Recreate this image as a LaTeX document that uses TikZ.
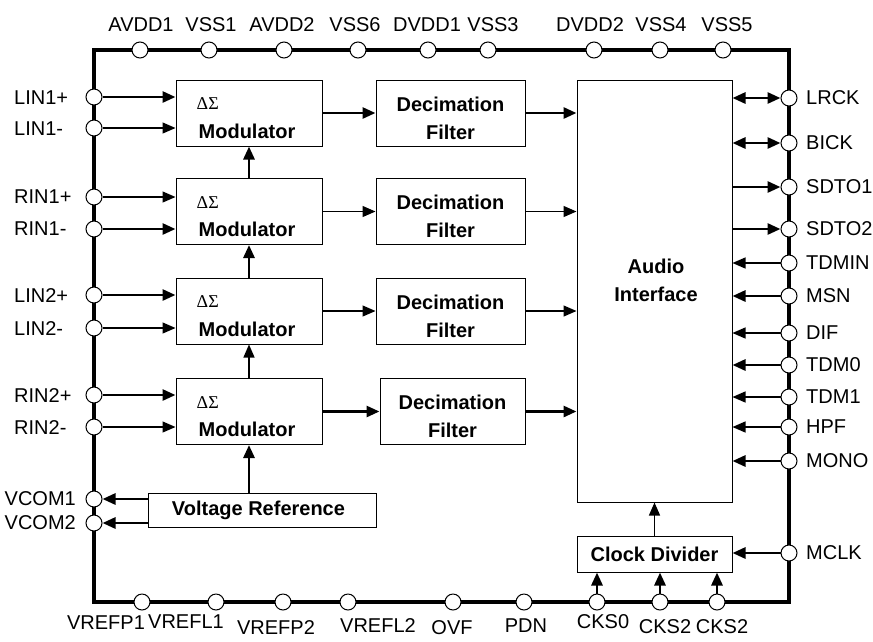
\documentclass[tikz,border=0pt]{standalone}
\usepackage{fontspec}
\setmainfont{Liberation Sans}
\newfontfamily\greekfont{Liberation Serif}
\usetikzlibrary{arrows.meta}

\tikzset{
  pin/.style={circle, draw, fill=white, line width=1pt, minimum size=16pt, inner sep=0pt},
  pinlabel/.style={font=\fontsize{20}{22}\selectfont, inner sep=0pt},
  blktext/.style={font=\bfseries\fontsize{20}{28}\selectfont, inner sep=0pt, align=center},
  blk/.style={draw, line width=1pt, inner sep=0pt, blktext},
  modblk/.style={blk, minimum width=146pt, minimum height=66pt,
    label={[anchor=north west, inner sep=0pt, font=\greekfont\fontsize{18}{20}\selectfont, xshift=21pt, yshift=-18pt]north west:ΔΣ},
    label={[anchor=south, blktext, yshift=8pt, xshift=-2pt]south:Modulator}},
  decblk/.style={blk, minimum width=149pt, minimum height=66pt,
    label={[anchor=north, blktext, yshift=-17pt]north:Decimation\\Filter}},
  arr/.style={-{Triangle[length=13pt,width=11pt]}, line width=1.3pt},
  tarr/.style={arr, line width=2.8pt},
  darr/.style={tarr, {Triangle[length=13pt,width=11pt]}-{Triangle[length=13pt,width=11pt]}},
}

\begin{document}
\begin{tikzpicture}[x=1pt, y=-1pt]
    \useasboundingbox (0,0) rectangle (873,641);

    % Package outline
    \draw[line width=4.2pt] (94,50) rectangle (789,602);

    % Blocks
    \node[modblk] (mod1) at (249,113) {};
    \node[modblk] (mod2) at (249,211.5) {};
    \node[modblk] (mod3) at (249,311) {};
    \node[modblk] (mod4) at (249,411.5) {};
    \node[decblk] (dec1) at (450.5,113) {};
    \node[decblk] (dec2) at (450.5,211.5) {};
    \node[decblk] (dec3) at (450.5,311) {};
    \node[decblk, minimum width=145pt] (dec4) at (452.5,411.5) {};
    \node[blk, minimum width=155pt, minimum height=422pt] (ai) at (654.5,291) {};
    \node[blktext] (aitext) at (656,280) {Audio\\Interface};
    \node[blk, minimum width=228pt, minimum height=34pt] (vref) at (262,510) {\hspace*{-7pt}Voltage Reference};
    \node[blk, minimum width=155pt, minimum height=36pt] (clk) at (654.5,554) {Clock Divider};

    % Top pins
    \foreach \name/\x/\lx in {AVDD1/140/141, VSS1/209/211, AVDD2/284/282, VSS6/358/355,
        DVDD1/428/427, VSS3/488/493, DVDD2/594/590, VSS4/660/661, VSS5/723/727} {
      \node[pin] (\name) at (\x,50) {};
      \node[pinlabel] (\name-lbl) at (\lx,25) {\name};
    }

    % Left pins
    \node[pin] (lin1p) at (94,97) {};
    \node[pin] (lin1m) at (94,128) {};
    \node[pin] (rin1p) at (94,197) {};
    \node[pin] (rin1m) at (94,229) {};
    \node[pin] (lin2p) at (94,295) {};
    \node[pin] (lin2m) at (94,328) {};
    \node[pin] (rin2p) at (94,395) {};
    \node[pin] (rin2m) at (94,427) {};
    \node[pin] (vcom1) at (94,499) {};
    \node[pin] (vcom2) at (94,523) {};
    \node[pinlabel, anchor=west] (lin1p-lbl) at (14,98) {LIN1+};
    \node[pinlabel, anchor=west] (lin1m-lbl) at (14,129) {LIN1-};
    \node[pinlabel, anchor=west] (rin1p-lbl) at (14,197) {RIN1+};
    \node[pinlabel, anchor=west] (rin1m-lbl) at (14,229) {RIN1-};
    \node[pinlabel, anchor=west] (lin2p-lbl) at (14,296) {LIN2+};
    \node[pinlabel, anchor=west] (lin2m-lbl) at (14,329) {LIN2-};
    \node[pinlabel, anchor=west] (rin2p-lbl) at (14,396) {RIN2+};
    \node[pinlabel, anchor=west] (rin2m-lbl) at (14,428) {RIN2-};
    \node[pinlabel, anchor=east] (vcom1-lbl) at (76,499) {VCOM1};
    \node[pinlabel, anchor=east] (vcom2-lbl) at (76,523) {VCOM2};

    % Right pins
    \foreach \name/\y in {LRCK/98, BICK/143, SDTO1/187, SDTO2/229, TDMIN/263, MSN/296,
        DIF/333, TDM0/365, TDM1/397, HPF/427, MONO/461, MCLK/553} {
      \node[pin] (\name) at (789,\y) {};
      \node[pinlabel, anchor=west] (\name-lbl) at (806,\y) {\name};
    }

    % Bottom pins
    \foreach \id/\name/\x/\lx/\ly in {vrefp1/VREFP1/142/106/623, vrefl1/VREFL1/216/186/622,
        vrefp2/VREFP2/283/276/628, vrefl2/VREFL2/348/378/626, ovf/OVF/453/452/628,
        pdn/PDN/524/526/626, cks0/CKS0/597/603/622, cks2a/CKS2/660/665/627, cks2b/CKS2/717/722/627} {
      \node[pin] (\id) at (\x,602) {};
      \node[pinlabel] (\id-lbl) at (\lx,\ly) {\name};
    }

    % Analog inputs
    \draw[tarr] (lin1p) -- (lin1p -| mod1.west);
    \draw[arr] (lin1m) -- (lin1m -| mod1.west);
    \draw[arr] (rin1p) -- (rin1p -| mod2.west);
    \draw[tarr] (rin1m) -- (rin1m -| mod2.west);
    \draw[tarr] (lin2p) -- (lin2p -| mod3.west);
    \draw[arr] (lin2m) -- (lin2m -| mod3.west);
    \draw[tarr] (rin2p) -- (rin2p -| mod4.west);
    \draw[arr] (rin2m) -- (rin2m -| mod4.west);

    % Modulators to filters to interface
    \draw[tarr] (mod1) -- (dec1);
    \draw[arr] (mod2) -- (dec2);
    \draw[arr] (mod3) -- (dec3);
    \draw[tarr] (mod4) -- (dec4);
    \draw[tarr] (dec1) -- (dec1 -| ai.west);
    \draw[arr] (dec2) -- (dec2 -| ai.west);
    \draw[arr] (dec3) -- (dec3 -| ai.west);
    \draw[tarr] (dec4) -- (dec4 -| ai.west);

    % Reference chain
    \draw[tarr] (mod2) -- (mod1);
    \draw[tarr] (mod3) -- (mod2);
    \draw[arr] (mod4) -- (mod3);
    \draw[tarr] (mod4 |- vref.north) -- (mod4);
    \draw[tarr] (vref.west |- vcom1) -- (vcom1);
    \draw[tarr] (vref.west |- vcom2) -- (vcom2);

    % Digital side
    \draw[darr] (ai.east |- LRCK) -- (LRCK);
    \draw[darr] (ai.east |- BICK) -- (BICK);
    \draw[tarr] (ai.east |- SDTO1) -- (SDTO1);
    \draw[tarr] (ai.east |- SDTO2) -- (SDTO2);
    \draw[arr] (TDMIN) -- (TDMIN -| ai.east);
    \draw[tarr] (MSN) -- (MSN -| ai.east);
    \draw[arr] (DIF) -- (DIF -| ai.east);
    \draw[tarr] (TDM0) -- (TDM0 -| ai.east);
    \draw[arr] (TDM1) -- (TDM1 -| ai.east);
    \draw[arr] (HPF) -- (HPF -| ai.east);
    \draw[tarr] (MONO) -- (MONO -| ai.east);
    \draw[tarr] (MCLK) -- (MCLK -| clk.east);
    \draw[arr] (clk) -- (ai);
    \draw[tarr] (cks0) -- (cks0 |- clk.south);
    \draw[tarr] (cks2a) -- (cks2a |- clk.south);
    \draw[tarr] (cks2b) -- (cks2b |- clk.south);
\end{tikzpicture}
\end{document}
